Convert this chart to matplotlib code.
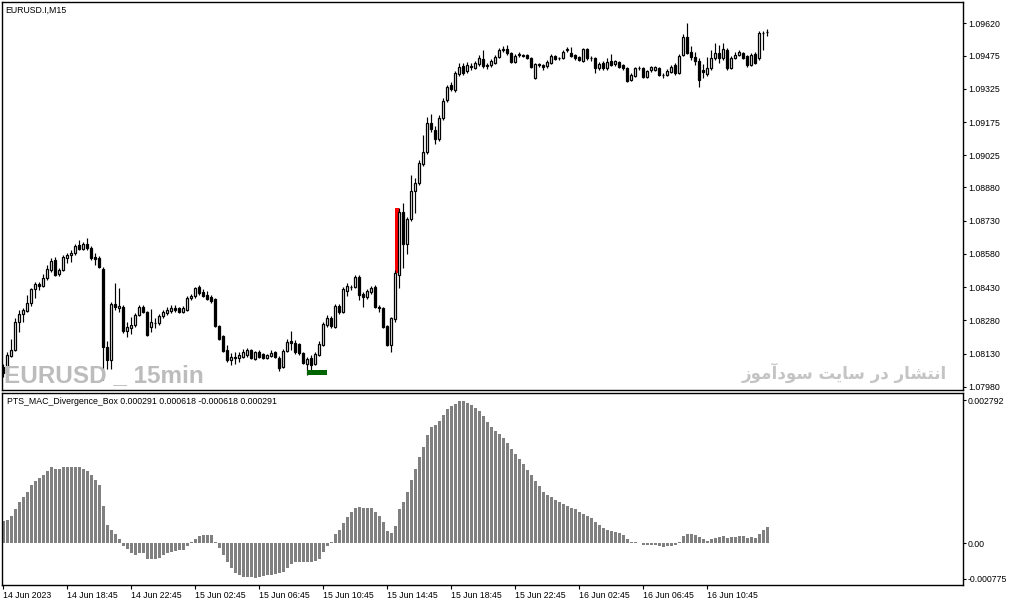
import matplotlib
matplotlib.use("Agg")
import matplotlib.pyplot as plt
from matplotlib import font_manager
from matplotlib.patches import Rectangle

# ---------------- data ----------------
opens = [
    1.08070, 1.08043, 1.08120, 1.08147, 1.08273, 1.08309, 1.08323, 1.08359, 1.08422, 1.08445,
    1.08436, 1.08472, 1.08508, 1.08553, 1.08490, 1.08508, 1.08562, 1.08575, 1.08584, 1.08620,
    1.08602, 1.08625, 1.08607, 1.08566, 1.08562, 1.08512, 1.08160, 1.08102, 1.08354, 1.08336,
    1.08341, 1.08233, 1.08246, 1.08260, 1.08305, 1.08341, 1.08318, 1.08251, 1.08269, 1.08269,
    1.08300, 1.08314, 1.08323, 1.08336, 1.08336, 1.08318, 1.08327, 1.08381, 1.08390, 1.08431,
    1.08408, 1.08395, 1.08386, 1.08377, 1.08255, 1.08210, 1.08147, 1.08102, 1.08115, 1.08111,
    1.08115, 1.08124, 1.08147, 1.08106, 1.08138, 1.08129, 1.08111, 1.08120, 1.08138, 1.08111,
    1.08070, 1.08142, 1.08187, 1.08178, 1.08174, 1.08133, 1.08084, 1.08111, 1.08084, 1.08124,
    1.08169, 1.08260, 1.08291, 1.08251, 1.08345, 1.08318, 1.08413, 1.08431, 1.08431, 1.08476,
    1.08399, 1.08386, 1.08408, 1.08431, 1.08341, 1.08336, 1.08255, 1.08169, 1.08287, 1.08485,
    1.08769, 1.08625, 1.08738, 1.08864, 1.08900, 1.08986, 1.09040, 1.09171, 1.09139, 1.09098,
    1.09193, 1.09274, 1.09342, 1.09319, 1.09392, 1.09428, 1.09405, 1.09423, 1.09419, 1.09437,
    1.09459, 1.09432, 1.09432, 1.09441, 1.09468, 1.09500, 1.09504, 1.09486, 1.09446, 1.09477,
    1.09477, 1.09477, 1.09464, 1.09374, 1.09437, 1.09432, 1.09428, 1.09441, 1.09473, 1.09464,
    1.09464, 1.09500, 1.09486, 1.09477, 1.09468, 1.09450, 1.09504, 1.09464, 1.09464, 1.09419,
    1.09441, 1.09419, 1.09450, 1.09437, 1.09446, 1.09432, 1.09419, 1.09365, 1.09383, 1.09419,
    1.09419, 1.09378, 1.09410, 1.09410, 1.09419, 1.09387, 1.09387, 1.09401, 1.09432, 1.09396,
    1.09477, 1.09559, 1.09491, 1.09468, 1.09450, 1.09410, 1.09392, 1.09419, 1.09464, 1.09486,
    1.09464, 1.09500, 1.09419, 1.09464, 1.09477, 1.09486, 1.09473, 1.09432, 1.09482, 1.09464,
    1.09577, 1.09581,
]
highs = [
    1.08084, 1.08138, 1.08196, 1.08291, 1.08327, 1.08336, 1.08395, 1.08426, 1.08454, 1.08454,
    1.08490, 1.08530, 1.08562, 1.08566, 1.08517, 1.08575, 1.08584, 1.08598, 1.08625, 1.08643,
    1.08634, 1.08652, 1.08616, 1.08584, 1.08571, 1.08521, 1.08187, 1.08363, 1.08449, 1.08426,
    1.08350, 1.08273, 1.08296, 1.08314, 1.08350, 1.08350, 1.08323, 1.08332, 1.08291, 1.08309,
    1.08327, 1.08341, 1.08350, 1.08350, 1.08341, 1.08345, 1.08390, 1.08399, 1.08431, 1.08440,
    1.08422, 1.08413, 1.08395, 1.08381, 1.08260, 1.08215, 1.08169, 1.08133, 1.08138, 1.08138,
    1.08151, 1.08156, 1.08151, 1.08142, 1.08147, 1.08133, 1.08129, 1.08147, 1.08142, 1.08120,
    1.08151, 1.08196, 1.08233, 1.08192, 1.08178, 1.08138, 1.08115, 1.08124, 1.08138, 1.08187,
    1.08273, 1.08305, 1.08300, 1.08354, 1.08354, 1.08431, 1.08449, 1.08440, 1.08485, 1.08485,
    1.08408, 1.08422, 1.08436, 1.08440, 1.08350, 1.08341, 1.08260, 1.08296, 1.08508, 1.08787,
    1.08810, 1.08747, 1.08936, 1.08923, 1.09004, 1.09117, 1.09198, 1.09211, 1.09157, 1.09207,
    1.09283, 1.09342, 1.09356, 1.09405, 1.09441, 1.09441, 1.09446, 1.09441, 1.09450, 1.09477,
    1.09500, 1.09441, 1.09459, 1.09477, 1.09509, 1.09518, 1.09522, 1.09491, 1.09482, 1.09491,
    1.09482, 1.09482, 1.09468, 1.09441, 1.09441, 1.09437, 1.09455, 1.09482, 1.09477, 1.09468,
    1.09500, 1.09513, 1.09513, 1.09482, 1.09473, 1.09509, 1.09509, 1.09473, 1.09468, 1.09446,
    1.09450, 1.09464, 1.09482, 1.09455, 1.09450, 1.09437, 1.09423, 1.09396, 1.09423, 1.09428,
    1.09423, 1.09410, 1.09428, 1.09428, 1.09423, 1.09396, 1.09414, 1.09432, 1.09441, 1.09482,
    1.09572, 1.09622, 1.09518, 1.09491, 1.09464, 1.09437, 1.09468, 1.09500, 1.09531, 1.09522,
    1.09531, 1.09509, 1.09473, 1.09491, 1.09500, 1.09491, 1.09477, 1.09486, 1.09491, 1.09586,
    1.09586, 1.09595,
]
lows = [
    1.08025, 1.08025, 1.08115, 1.08142, 1.08228, 1.08273, 1.08318, 1.08345, 1.08381, 1.08417,
    1.08431, 1.08463, 1.08499, 1.08481, 1.08481, 1.08503, 1.08539, 1.08544, 1.08575, 1.08598,
    1.08598, 1.08598, 1.08553, 1.08530, 1.08517, 1.08012, 1.08061, 1.08061, 1.08327, 1.08318,
    1.08224, 1.08206, 1.08219, 1.08251, 1.08300, 1.08314, 1.08210, 1.08228, 1.08246, 1.08260,
    1.08291, 1.08305, 1.08314, 1.08318, 1.08314, 1.08314, 1.08323, 1.08372, 1.08381, 1.08395,
    1.08386, 1.08372, 1.08359, 1.08251, 1.08192, 1.08138, 1.08093, 1.08079, 1.08084, 1.08093,
    1.08111, 1.08115, 1.08106, 1.08102, 1.08111, 1.08106, 1.08106, 1.08115, 1.08111, 1.08052,
    1.08066, 1.08138, 1.08147, 1.08129, 1.08124, 1.08084, 1.08034, 1.08057, 1.08079, 1.08120,
    1.08165, 1.08251, 1.08246, 1.08246, 1.08309, 1.08314, 1.08390, 1.08417, 1.08426, 1.08372,
    1.08341, 1.08377, 1.08399, 1.08336, 1.08318, 1.08246, 1.08165, 1.08138, 1.08273, 1.08426,
    1.08517, 1.08580, 1.08729, 1.08765, 1.08891, 1.08977, 1.09031, 1.09130, 1.09076, 1.09089,
    1.09184, 1.09265, 1.09315, 1.09310, 1.09383, 1.09387, 1.09396, 1.09410, 1.09414, 1.09428,
    1.09419, 1.09414, 1.09423, 1.09437, 1.09464, 1.09491, 1.09477, 1.09441, 1.09441, 1.09468,
    1.09468, 1.09459, 1.09419, 1.09369, 1.09423, 1.09410, 1.09419, 1.09437, 1.09455, 1.09455,
    1.09459, 1.09491, 1.09468, 1.09455, 1.09450, 1.09446, 1.09455, 1.09450, 1.09396, 1.09410,
    1.09410, 1.09410, 1.09428, 1.09428, 1.09419, 1.09410, 1.09356, 1.09360, 1.09378, 1.09410,
    1.09374, 1.09374, 1.09401, 1.09405, 1.09383, 1.09374, 1.09383, 1.09396, 1.09387, 1.09392,
    1.09473, 1.09482, 1.09455, 1.09432, 1.09333, 1.09374, 1.09383, 1.09410, 1.09455, 1.09441,
    1.09455, 1.09410, 1.09414, 1.09459, 1.09473, 1.09459, 1.09423, 1.09428, 1.09437, 1.09455,
    1.09500, 1.09563,
]
closes = [
    1.08043, 1.08124, 1.08147, 1.08273, 1.08309, 1.08327, 1.08359, 1.08422, 1.08445, 1.08436,
    1.08472, 1.08512, 1.08548, 1.08485, 1.08508, 1.08566, 1.08575, 1.08584, 1.08616, 1.08602,
    1.08625, 1.08607, 1.08562, 1.08557, 1.08521, 1.08160, 1.08102, 1.08354, 1.08341, 1.08345,
    1.08233, 1.08251, 1.08260, 1.08305, 1.08341, 1.08318, 1.08215, 1.08273, 1.08268, 1.08300,
    1.08318, 1.08327, 1.08336, 1.08327, 1.08318, 1.08336, 1.08381, 1.08390, 1.08426, 1.08404,
    1.08390, 1.08377, 1.08368, 1.08255, 1.08196, 1.08142, 1.08102, 1.08115, 1.08113, 1.08124,
    1.08138, 1.08147, 1.08111, 1.08138, 1.08115, 1.08111, 1.08124, 1.08133, 1.08115, 1.08066,
    1.08142, 1.08183, 1.08178, 1.08138, 1.08133, 1.08088, 1.08106, 1.08079, 1.08129, 1.08174,
    1.08264, 1.08291, 1.08255, 1.08345, 1.08318, 1.08422, 1.08436, 1.08429, 1.08476, 1.08395,
    1.08386, 1.08413, 1.08426, 1.08341, 1.08336, 1.08251, 1.08169, 1.08291, 1.08494, 1.08769,
    1.08625, 1.08738, 1.08864, 1.08900, 1.08990, 1.09040, 1.09171, 1.09144, 1.09098, 1.09193,
    1.09270, 1.09333, 1.09324, 1.09396, 1.09423, 1.09396, 1.09432, 1.09428, 1.09441, 1.09464,
    1.09428, 1.09428, 1.09450, 1.09468, 1.09500, 1.09504, 1.09486, 1.09446, 1.09473, 1.09482,
    1.09475, 1.09464, 1.09423, 1.09437, 1.09432, 1.09423, 1.09446, 1.09473, 1.09459, 1.09462,
    1.09491, 1.09504, 1.09473, 1.09464, 1.09455, 1.09504, 1.09464, 1.09462, 1.09419, 1.09437,
    1.09419, 1.09446, 1.09432, 1.09450, 1.09423, 1.09419, 1.09360, 1.09387, 1.09419, 1.09417,
    1.09378, 1.09405, 1.09423, 1.09423, 1.09387, 1.09385, 1.09405, 1.09423, 1.09396, 1.09473,
    1.09559, 1.09486, 1.09468, 1.09450, 1.09365, 1.09401, 1.09419, 1.09464, 1.09486, 1.09464,
    1.09504, 1.09419, 1.09464, 1.09477, 1.09491, 1.09464, 1.09432, 1.09477, 1.09441, 1.09577,
    1.09575, 1.09581,
]
macd_hist = [
    40.7e-5, 42.5e-5, 50.1e-5, 63.2e-5, 77.0e-5, 85.7e-5, 95.7e-5, 107.0e-5, 115.8e-5, 120.8e-5,
    125.8e-5, 134.5e-5, 140.8e-5, 138.3e-5, 138.3e-5, 140.8e-5, 140.8e-5, 140.8e-5, 142.0e-5, 140.8e-5,
    137.0e-5, 133.3e-5, 125.8e-5, 117.6e-5, 108.2e-5, 69.5e-5, 33.2e-5, 23.8e-5, 16.9e-5, 8.1e-5,
    -5.6e-5, -10.6e-5, -18.1e-5, -21.9e-5, -18.1e-5, -18.1e-5, -29.4e-5, -29.4e-5, -29.4e-5, -26.9e-5,
    -21.9e-5, -18.1e-5, -16.9e-5, -14.4e-5, -13.1e-5, -13.1e-5, -5.6e-5, 1.9e-5, 8.1e-5, 13.1e-5,
    14.4e-5, 14.4e-5, 14.4e-5, 3.1e-5, -9.4e-5, -21.9e-5, -35.7e-5, -46.9e-5, -54.4e-5, -59.4e-5,
    -62.6e-5, -63.2e-5, -63.2e-5, -63.8e-5, -61.9e-5, -60.7e-5, -59.4e-5, -58.2e-5, -56.3e-5, -54.4e-5,
    -52.6e-5, -45.1e-5, -38.8e-5, -34.4e-5, -34.4e-5, -34.4e-5, -34.4e-5, -35.7e-5, -33.2e-5, -29.4e-5,
    -15.6e-5, -4.4e-5, 3.1e-5, 16.9e-5, 23.8e-5, 38.2e-5, 48.2e-5, 58.2e-5, 65.7e-5, 67.0e-5,
    65.7e-5, 65.7e-5, 65.7e-5, 56.9e-5, 50.7e-5, 39.4e-5, 21.9e-5, 18.1e-5, 31.9e-5, 63.2e-5,
    77.0e-5, 95.7e-5, 117.6e-5, 138.3e-5, 159.6e-5, 178.3e-5, 200.9e-5, 215.9e-5, 219.6e-5, 227.1e-5,
    237.8e-5, 249.0e-5, 253.4e-5, 258.4e-5, 264.0e-5, 262.8e-5, 260.3e-5, 255.9e-5, 250.9e-5, 244.6e-5,
    235.9e-5, 224.6e-5, 215.9e-5, 208.4e-5, 202.1e-5, 195.2e-5, 185.8e-5, 175.2e-5, 164.6e-5, 155.2e-5,
    145.8e-5, 136.4e-5, 125.8e-5, 114.5e-5, 105.1e-5, 94.5e-5, 89.5e-5, 86.3e-5, 80.1e-5, 75.7e-5,
    73.2e-5, 69.5e-5, 65.7e-5, 63.2e-5, 56.9e-5, 54.4e-5, 50.7e-5, 46.9e-5, 39.4e-5, 33.2e-5,
    28.2e-5, 25.0e-5, 21.9e-5, 20.6e-5, 18.1e-5, 14.4e-5, 6.9e-5, 3.1e-5, 1.9e-5, 0.6e-5,
    -3.1e-5, -3.1e-5, -3.1e-5, -3.1e-5, -4.4e-5, -7.5e-5, -5.0e-5, -4.4e-5, -3.8e-5, 1.9e-5,
    13.1e-5, 16.9e-5, 16.9e-5, 15.6e-5, 10.6e-5, 6.9e-5, 4.4e-5, 6.9e-5, 9.4e-5, 11.3e-5,
    12.5e-5, 9.4e-5, 10.6e-5, 11.3e-5, 12.5e-5, 12.5e-5, 10.0e-5, 10.6e-5, 9.4e-5, 16.9e-5,
    24.4e-5, 29.1e-5,
]

price_ticks = [1.09620, 1.09475, 1.09325, 1.09175, 1.09025, 1.08880,
               1.08730, 1.08580, 1.08430, 1.08280, 1.08130, 1.07980]
time_tick_bars = [0, 16, 32, 48, 64, 80, 96, 112, 128, 144, 160, 176]
time_tick_labels = ["14 Jun 2023", "14 Jun 18:45", "14 Jun 22:45", "15 Jun 02:45",
                    "15 Jun 06:45", "15 Jun 10:45", "15 Jun 14:45", "15 Jun 18:45",
                    "15 Jun 22:45", "16 Jun 02:45", "16 Jun 06:45", "16 Jun 10:45"]
red_box_bars = [98, 99]
red_box_prices = [1.08494, 1.08787]
green_box_bars = [76, 81]
green_box_prices = [1.08034, 1.08057]
indicator_name = "PTS_MAC_Divergence_Box 0.000291 0.000618 -0.000618 0.000291"
symbol_title = "EURUSD.I,M15"
sub_scale = [0.002792, 0.0, -0.000775]
sub_scale_labels = ["0.002792", "0.00", "-0.000775"]

# ---------------- layout ----------------
W, H = 1009, 606
fig = plt.figure(figsize=(W / 100, H / 100), dpi=100)
fig.patch.set_facecolor("white")
LBL = ["Liberation Sans", "DejaVu Sans"]
FS = 6.3


def fx(px):
    return px / W


def fy(py):
    return 1 - py / H


ax = fig.add_axes([fx(2), fy(390.3), (963 - 2) / W, (390.3 - 2) / H])
ax2 = fig.add_axes([fx(2), fy(585), (963 - 2) / W, (585 - 392.5) / H])

n = len(closes)
xs = list(range(n))

# ---------------- candles ----------------
ax.vlines(xs, lows, highs, colors="black", linewidth=0.85, zorder=2)
for i in xs:
    o, c = opens[i], closes[i]
    bottom = min(o, c)
    height = max(abs(c - o), 0.000012)
    face = "white" if c >= o else "black"
    ax.bar(i, height, bottom=bottom, width=0.55, color=face,
           edgecolor="black", linewidth=0.9, zorder=3)

ax.add_patch(Rectangle((red_box_bars[0], red_box_prices[0]),
                       red_box_bars[1] - red_box_bars[0],
                       red_box_prices[1] - red_box_prices[0],
                       facecolor="#ff0000", edgecolor="none", zorder=1))
ax.add_patch(Rectangle((green_box_bars[0], green_box_prices[0]),
                       green_box_bars[1] - green_box_bars[0],
                       green_box_prices[1] - green_box_prices[0],
                       facecolor="#006400", edgecolor="none", zorder=4))

ax.set_xlim(-0.25, 240)
ax.set_ylim(1.079651, 1.0971635)
ax.set_xticks([])
ax.yaxis.tick_right()
ax.set_yticks(price_ticks)
ax.set_yticklabels([f"{p:.5f}" for p in price_ticks], fontsize=FS, family=LBL)
ax.tick_params(axis="y", direction="out", length=2.5, width=0.8, pad=1.5, colors="black")
for s in ax.spines.values():
    s.set_linewidth(1.0)
    s.set_color("black")

# ---------------- histogram ----------------
ax2.bar(xs, macd_hist, width=0.75, color="#808080", linewidth=0, zorder=2)
ax2.set_xlim(-0.25, 240)
ax2.set_ylim(-0.000775, 0.002792)
ax2.yaxis.tick_right()
px_val = (0.002792 + 0.000775) / (585 - 392.5)
ax2.set_yticks([sub_scale[0] - 7.5 * px_val, sub_scale[1], sub_scale[2] + 6.5 * px_val])
ax2.set_yticklabels(sub_scale_labels, fontsize=FS, family=LBL)
ax2.tick_params(axis="y", direction="out", length=2.0, width=0.8, pad=1.0)
ax2.set_xticks(time_tick_bars)
ax2.set_xticklabels(time_tick_labels, fontsize=FS, family=LBL, ha="left")
ax2.tick_params(axis="x", direction="out", length=3, width=0.8, pad=1.0)
for s in ax2.spines.values():
    s.set_linewidth(1.0)
    s.set_color("black")

# ---------------- texts ----------------
fig.text(fx(5), fy(10), symbol_title, fontsize=FS, family=LBL, va="center", ha="left")
fig.text(fx(7), fy(401.5), indicator_name, fontsize=FS, family=LBL, va="center", ha="left")

names = {f.name for f in font_manager.fontManager.ttflist}
narrow = None
for cand in ["Liberation Sans Narrow", "Roboto Condensed", "Open Sans Condensed",
             "DejaVu Sans Condensed"]:
    if cand in names:
        narrow = cand
        break
if narrow == "Liberation Sans Narrow":
    wm_family, wm_size = [narrow, "DejaVu Sans"], 22
else:
    wm_family, wm_size = ["Liberation Sans", "DejaVu Sans"], 17.5
fig.text(fx(4), fy(382), "EURUSD _ 15min", fontsize=wm_size, fontweight="bold",
         family=wm_family, color="#bcbcbc", va="baseline", ha="left", zorder=0)

persian = ("\uFEAF\uFEEE\uFEE3\uFE81\uFEA9\uFEEE\uFEB3 "
           "\uFE96\uFBFE\uFE8E\uFEB3 "
           "\uFEAD\uFEA9 "
           "\uFEAD\uFE8E\uFEB8\uFE98\uFEE7\uFE8D")
fig.text(fx(947), fy(379), persian, fontsize=12, fontweight="bold",
         family=["DejaVu Sans"], color="#c4c4c4", va="baseline", ha="right")

fig.savefig("out.png", dpi=100, facecolor="white")
